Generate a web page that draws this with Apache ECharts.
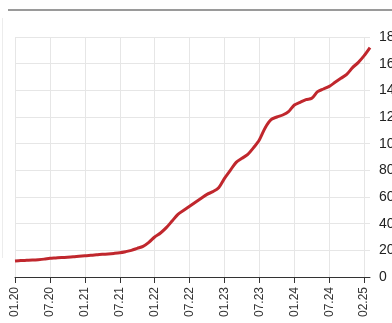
<!DOCTYPE html>
<html>
<head>
<meta charset="utf-8">
<script src="https://cdn.jsdelivr.net/npm/echarts@6/dist/echarts.min.js"></script>
<style>
html,body{margin:0;padding:0;background:#fff;}
#chart{width:392px;height:323px;}
</style>
</head>
<body>
<div id="chart"></div>
<script>
const categories = [
  "01.20","02.20","03.20","04.20","05.20","06.20","07.20","08.20","09.20","10.20","11.20","12.20",
  "01.21","02.21","03.21","04.21","05.21","06.21","07.21","08.21","09.21","10.21","11.21","12.21",
  "01.22","02.22","03.22","04.22","05.22","06.22","07.22","08.22","09.22","10.22","11.22","12.22",
  "01.23","02.23","03.23","04.23","05.23","06.23","07.23","08.23","09.23","10.23","11.23","12.23",
  "01.24","02.24","03.24","04.24","05.24","06.24","07.24","08.24","09.24","10.24","11.24","12.24",
  "02.25","03.25"
];
const values = [
  12, 12.3, 12.5, 12.7, 13, 13.4, 14, 14.3, 14.6, 14.8, 15.1, 15.6,
  16, 16.3, 16.6, 17, 17.3, 17.7, 18.2, 19, 20, 21.5, 23, 26,
  30, 33, 37, 42, 47, 50, 53, 56, 59, 62, 64, 67,
  74, 80, 86, 89, 92, 97, 103, 112, 118, 120, 121.5, 124,
  129, 131, 133, 134, 139, 141, 143, 146, 149, 152, 157, 161,
  166, 172
];
const yTicks = { min: 0, max: 180, step: 20 };
const labelEvery = 6;

const chart = echarts.init(document.getElementById('chart'), null, { renderer: 'canvas' });
const showTick = (i) => i % labelEvery === 0 && i <= 60;
chart.setOption({
  animation: false,
  backgroundColor: '#fff',
  grid: { left: 15, right: 22, top: 37, bottom: 46, containLabel: false, outerBoundsMode: 'none' },
  graphic: [
    { type: 'rect', shape: { x: 8, y: 9, width: 390, height: 2 }, style: { fill: '#9a9a9a' } },
    { type: 'rect', shape: { x: 2, y: 18, width: 1, height: 240 }, style: { fill: '#ececec' } }
  ],
  xAxis: {
    type: 'category',
    data: categories,
    boundaryGap: false,
    axisLine: { show: true, lineStyle: { color: '#333', width: 1 } },
    axisTick: { show: true, length: 6, interval: showTick, lineStyle: { color: '#333' } },
    axisLabel: {
      interval: showTick,
      rotate: 90, fontSize: 12, color: '#333', margin: 10,
      fontFamily: 'Liberation Sans'
    },
    splitLine: { show: true, interval: showTick, lineStyle: { color: '#e6e6e6', width: 1 } }
  },
  yAxis: {
    type: 'value',
    position: 'right',
    min: yTicks.min, max: yTicks.max, interval: yTicks.step,
    axisLine: { show: false },
    axisTick: { show: false },
    axisLabel: { fontSize: 14, color: '#222', margin: 9, fontFamily: 'Liberation Sans' },
    splitLine: { show: true, lineStyle: { color: '#e6e6e6', width: 1 } }
  },
  series: [{
    type: 'line',
    data: values,
    showSymbol: false,
    smooth: 0.3,
    lineStyle: { color: '#c0272d', width: 3 }
  }]
});
</script>
</body>
</html>
